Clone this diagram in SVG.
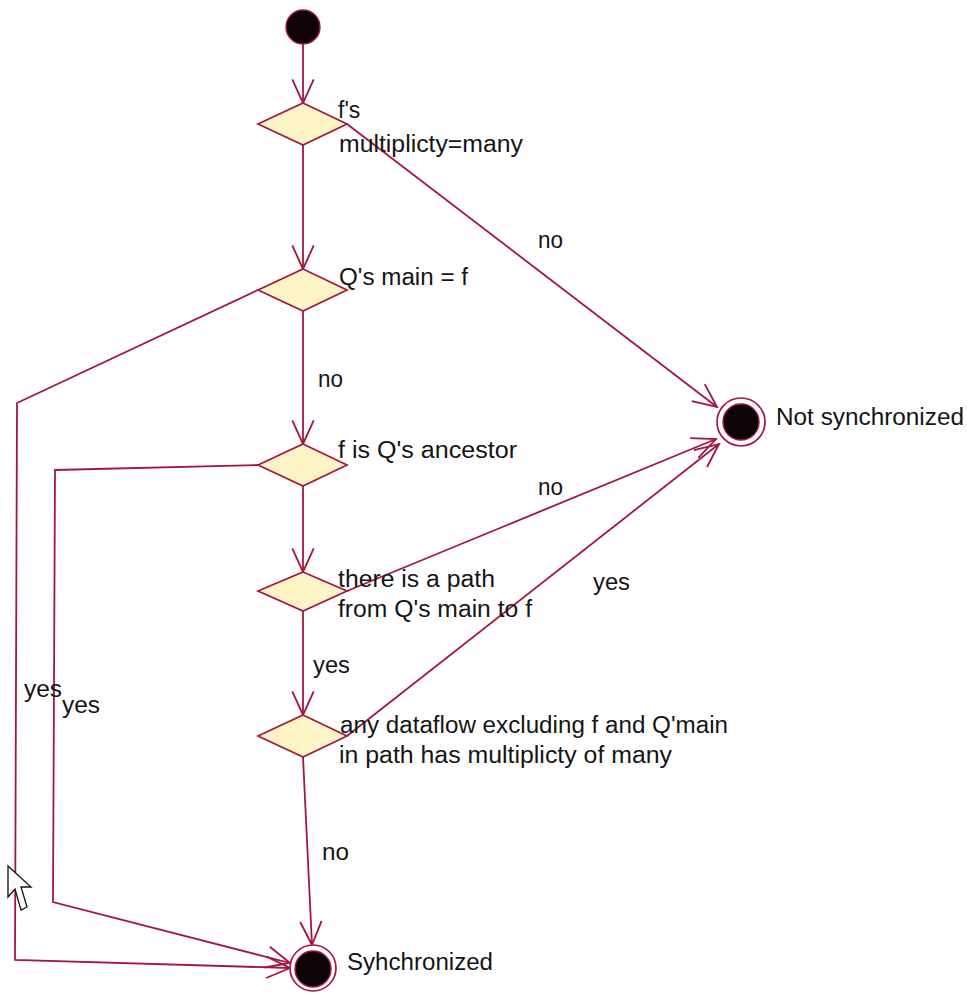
<svg xmlns="http://www.w3.org/2000/svg" width="967" height="995" viewBox="0 0 967 995">
  <style>
    .edge { fill: none; stroke: #a3173f; stroke-width: 1.8; marker-end: url(#arrow); }
    .decision { fill: #fcf4c4; stroke: #a3173f; stroke-width: 1.7; }
    .ring { fill: #ffffff; stroke: #a3173f; stroke-width: 1.7; }
    .dot { fill: #0d0205; stroke: #a3173f; stroke-width: 1.4; }
    text { font-family: "Liberation Sans", Arial, sans-serif; font-size: 23px; fill: #151515; }
  </style>
  <defs>
    <marker id="arrow" markerUnits="userSpaceOnUse" markerWidth="30" markerHeight="30" refX="0" refY="0" viewBox="-24 -12 28 24" orient="auto" overflow="visible">
      <path d="M -22 -10 L 0 0 L -22 10" fill="none" stroke="#a3173f" stroke-width="1.7"/>
    </marker>
  </defs>
  <rect width="967" height="995" fill="#ffffff"/>

  <!-- connectors -->
  <g id="connectors">
    <line class="edge" x1="303" y1="44" x2="303" y2="103"/>
    <line class="edge" x1="303" y1="145" x2="303" y2="269"/>
    <line class="edge" x1="347" y1="124" x2="717" y2="407"/>
    <line class="edge" x1="303" y1="311" x2="303" y2="444"/>
    <polyline class="edge" points="258,290 17,403 15,960 290,968"/>
    <polyline class="edge" points="258,465 55,470 53,902 290,963"/>
    <line class="edge" x1="303" y1="486" x2="303" y2="572"/>
    <line class="edge" x1="347" y1="591" x2="716" y2="439"/>
    <line class="edge" x1="303" y1="611" x2="303" y2="715"/>
    <line class="edge" x1="347" y1="736" x2="719" y2="444"/>
    <line class="edge" x1="303" y1="757" x2="312" y2="945"/>

    <text x="538" y="248" textLength="25" lengthAdjust="spacingAndGlyphs">no</text>
    <text x="318" y="387" textLength="25" lengthAdjust="spacingAndGlyphs">no</text>
    <text x="538" y="495" textLength="25" lengthAdjust="spacingAndGlyphs">no</text>
    <text x="593" y="590" textLength="37" lengthAdjust="spacingAndGlyphs">yes</text>
    <text x="313" y="673" textLength="37" lengthAdjust="spacingAndGlyphs">yes</text>
    <text x="24" y="697" textLength="38" lengthAdjust="spacingAndGlyphs">yes</text>
    <text x="62" y="713" textLength="38" lengthAdjust="spacingAndGlyphs">yes</text>
    <text x="322" y="860" textLength="27" lengthAdjust="spacingAndGlyphs">no</text>
  </g>

  <!-- initial state -->
  <g id="start">
    <circle class="dot" cx="303" cy="27" r="17"/>
  </g>

  <!-- decisions -->
  <g id="d-multiplicity">
    <polygon class="decision" points="303,103 347,124 303,145 258,124"/>
    <text x="338" y="118">f's</text>
    <text x="339" y="152" textLength="184" lengthAdjust="spacingAndGlyphs">multiplicty=many</text>
  </g>
  <g id="d-main">
    <polygon class="decision" points="303,269 347,290 303,311 258,290"/>
    <text x="339" y="285" textLength="129" lengthAdjust="spacingAndGlyphs">Q's main = f</text>
  </g>
  <g id="d-ancestor">
    <polygon class="decision" points="303,444 347,465 303,486 258,465"/>
    <text x="338" y="458" textLength="179" lengthAdjust="spacingAndGlyphs">f is Q's ancestor</text>
  </g>
  <g id="d-path">
    <polygon class="decision" points="303,572 347,591 303,611 258,591"/>
    <text x="338" y="587" textLength="157" lengthAdjust="spacingAndGlyphs">there is a path</text>
    <text x="338" y="617" textLength="194" lengthAdjust="spacingAndGlyphs">from Q's main to f</text>
  </g>
  <g id="d-dataflow">
    <polygon class="decision" points="303,715 347,736 303,757 258,736"/>
    <text x="340" y="733" textLength="388" lengthAdjust="spacingAndGlyphs">any dataflow excluding f and Q'main</text>
    <text x="339" y="763" textLength="333" lengthAdjust="spacingAndGlyphs">in path has multiplicty of many</text>
  </g>

  <!-- final states -->
  <g id="not-synchronized">
    <circle class="ring" cx="741" cy="422" r="24"/>
    <circle class="dot" cx="741" cy="422" r="18"/>
    <text x="776" y="425" textLength="188" lengthAdjust="spacingAndGlyphs">Not synchronized</text>
  </g>
  <g id="synchronized">
    <circle class="ring" cx="313" cy="968" r="23"/>
    <circle class="dot" cx="313" cy="969" r="18"/>
    <text x="347" y="970" textLength="146" lengthAdjust="spacingAndGlyphs">Syhchronized</text>
  </g>

  <!-- mouse pointer -->
  <polygon points="8,866 8,897 15,889 21,910 27,907 21,887 31,887" fill="#ffffff" stroke="#111111" stroke-width="1.3" stroke-linejoin="miter"/>
</svg>
